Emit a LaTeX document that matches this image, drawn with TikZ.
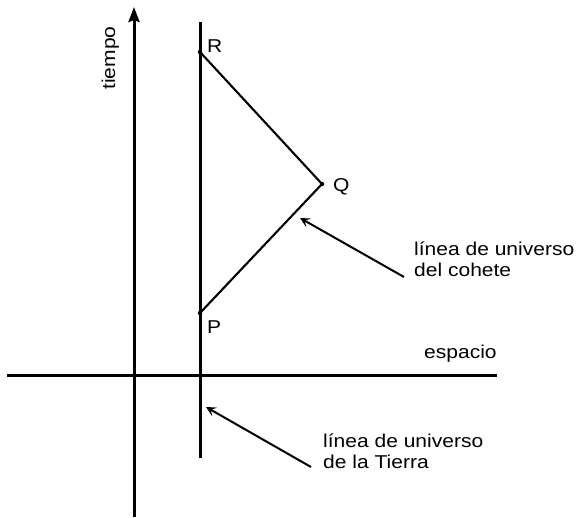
\documentclass[tikz,border=0pt]{standalone}
\usepackage{fontspec}
\setmainfont{Liberation Sans}[FakeStretch=1.13]
\usetikzlibrary{arrows.meta}
\begin{document}
\begin{tikzpicture}[x=1pt,y=-1pt,
  axis/.style={line width=3pt},
  wline/.style={line width=2.1pt},
  pointer/.style={line width=2pt,-{Stealth[length=10pt,width=10pt,inset=4.5pt]}},
  lbl/.style={inner sep=0pt,font=\fontsize{18.6}{21}\selectfont,align=left},
  dotmark/.style={circle,fill=black,inner sep=0pt,minimum size=4.5pt}]
\useasboundingbox (0,0) rectangle (577,518);
% axes
\coordinate (tb) at (134,517);
\coordinate (tt) at (134,7);
\coordinate (sl) at (7,375);
\coordinate (sr) at (497,375);
\draw[axis,-{Stealth[length=15pt,width=11pt,inset=2pt]}] (tb) -- (tt);
\draw[axis] (sl) -- (sr);
% earth world line
\coordinate (et) at (200,22);
\coordinate (eb) at (200,458);
\draw[axis] (et) -- (eb);
% rocket world line
\node[dotmark] (P) at (200,313) {};
\node[dotmark] (Q) at (322,184) {};
\node[dotmark] (R) at (200,52) {};
\draw[wline] (P.center) -- (Q.center) -- (R.center);
% labels
\node[lbl,anchor=base west] (Rl) at (207,53) {R};
\node[lbl,anchor=base west] (Ql) at (333,192) {Q};
\node[lbl,anchor=base west] (Pl) at (207,333) {P};
\node[lbl,anchor=base west] (esp) at (424,358) {espacio};
\node[lbl,anchor=base,rotate=90] (tie) at (115,58) {tiempo};
\node[lbl,anchor=north west] (cohete) at (414,242) {línea de universo\\del cohete};
\node[lbl,anchor=north west] (tierra) at (323,434) {línea de universo\\de la Tierra};
% pointers
\coordinate (a1s) at (404,277);
\coordinate (a1e) at (300,218);
\coordinate (a2s) at (311,467);
\coordinate (a2e) at (206,407);
\draw[pointer] (a1s) -- (a1e);
\draw[pointer] (a2s) -- (a2e);
\end{tikzpicture}
\end{document}
